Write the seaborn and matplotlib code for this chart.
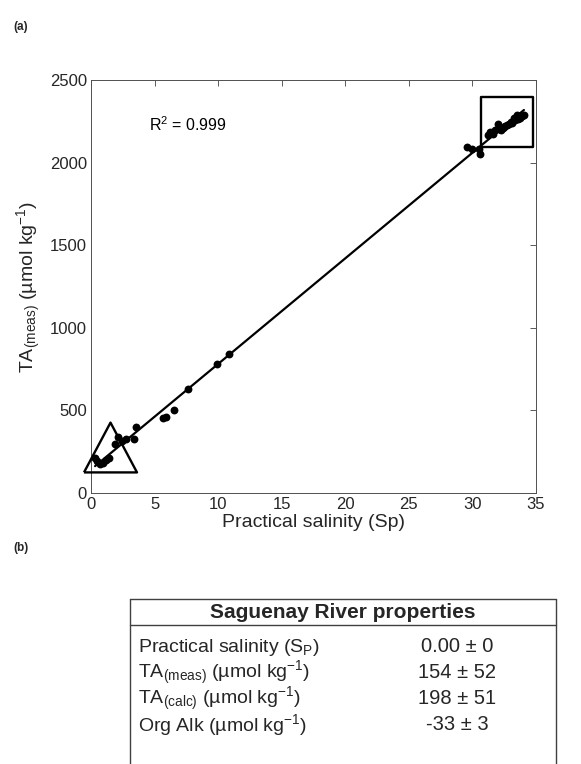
import matplotlib
matplotlib.use("Agg")
import matplotlib.pyplot as plt
import seaborn as sns
import pandas as pd
from matplotlib.lines import Line2D

# ---------------- data ----------------
salinity = [0.32, 0.44, 0.69, 0.93, 1.18, 1.42, 1.91, 2.16, 2.40, 2.77, 3.38, 3.50,
            5.70, 5.90, 6.49, 7.59, 9.94, 10.84,
            29.57, 29.93, 30.55, 30.62,
            31.20, 31.35, 31.50, 31.65, 31.80, 32.00, 32.10, 32.25, 32.40, 32.50,
            32.60, 32.75, 32.90, 33.00, 33.10, 33.24, 33.35, 33.48, 33.60, 33.75,
            33.90, 34.05]
ta_meas = [210, 194, 174, 184, 198, 210, 295, 336, 315, 326, 326, 400,
           457, 463, 504, 629, 781, 842,
           2095, 2080, 2085, 2055,
           2170, 2186, 2180, 2175, 2195, 2231, 2205, 2200, 2210, 2215,
           2220, 2230, 2235, 2247, 2240, 2267, 2255, 2288, 2262, 2270,
           2280, 2288]
r2_text = "R$^2$ = 0.999"
highlight_tri = (1.5, 278)      # river end-member marker
highlight_sq = (32.7, 2243)     # sea end-member marker

x_ticks = [0, 5, 10, 15, 20, 25, 30, 35]
y_ticks = [0, 500, 1000, 1500, 2000, 2500]

table_title = "Saguenay River properties"
table_labels = ["Practical salinity (S$_{\\mathrm{P}}$)",
                "TA$_{\\mathrm{(meas)}}$ (µmol kg$^{\\mathrm{-1}}$)",
                "TA$_{\\mathrm{(calc)}}$ (µmol kg$^{\\mathrm{-1}}$)",
                "Org Alk (µmol kg$^{\\mathrm{-1}}$)"]
table_values = ["0.00 ± 0", "154 ± 52", "198 ± 51", "-33 ± 3"]

df = pd.DataFrame({"Sp": salinity, "TA": ta_meas})

# ---------------- style ----------------
sns.set_theme(style="white")
plt.rcParams["font.family"] = ["Liberation Sans", "DejaVu Sans"]
plt.rcParams["mathtext.fontset"] = "custom"
plt.rcParams["mathtext.rm"] = "Liberation Sans"
plt.rcParams["mathtext.it"] = "Liberation Sans:italic"
plt.rcParams["mathtext.bf"] = "Liberation Sans:bold"

W, H = 581, 764
fig = plt.figure(figsize=(W / 100, H / 100), dpi=100)

def fx(px):
    return px / W

def fy(py):
    return 1 - py / H

ax_l, ax_r, ax_t, ax_b = 91, 536, 80, 493
ax = fig.add_axes([fx(ax_l), fy(ax_b), fx(ax_r - ax_l), (ax_b - ax_t) / H])

sns.regplot(data=df, x="Sp", y="TA", ax=ax, scatter=False, ci=None,
            truncate=True, line_kws=dict(color="black", lw=1.6))
sns.scatterplot(data=df, x="Sp", y="TA", ax=ax, color="black", s=32,
                edgecolor="black", linewidth=0, zorder=3)

px2pt = 0.72
ax.plot([highlight_tri[0]], [highlight_tri[1]], linestyle="none",
        marker=[(-1, -0.94), (1, -0.94), (0, 0.94), (-1, -0.94)],
        markersize=53 * px2pt,
        markerfacecolor="none", markeredgecolor="black", markeredgewidth=1.7,
        zorder=4, clip_on=False)
ax.plot([highlight_sq[0]], [highlight_sq[1]], linestyle="none",
        marker=[(-1, -0.96), (1, -0.96), (1, 0.96), (-1, 0.96), (-1, -0.96)],
        markersize=53 * px2pt, markerfacecolor="none", markeredgecolor="black",
        markeredgewidth=1.7, zorder=4, clip_on=False)

ax.text(4.6, 2228, r2_text, fontsize=11.5, ha="left", va="center", color="black")

ax.set_xlim(0, 35)
ax.set_ylim(0, 2500)
ax.set_xticks(x_ticks)
ax.set_yticks(y_ticks)
ax.tick_params(direction="in", length=4, width=0.6, colors="#404040",
               labelsize=12, top=True, right=True, labelcolor="#262626", pad=3)
for s in ax.spines.values():
    s.set_color("#505050")
    s.set_linewidth(0.7)
    s.set_visible(True)
ax.set_xlabel("Practical salinity (Sp)", fontsize=14, color="#262626", labelpad=1)
ax.set_ylabel("TA$_{\\mathrm{(meas)}}$ (µmol kg$^{\\mathrm{-1}}$)", fontsize=14,
              color="#262626", labelpad=5)

fig.text(fx(13), fy(27), "(a)", fontsize=8.5, fontweight="bold", va="center")
fig.text(fx(13), fy(548), "(b)", fontsize=8.5, fontweight="bold", va="center")

# ---------------- table ----------------
t_l, t_r, t_top, t_sep = 130, 556, 599, 625
row_y = [647, 673, 699, 725]
lc = "#404040"
fig.add_artist(Line2D([fx(t_l), fx(t_r)], [fy(t_top), fy(t_top)], color=lc, lw=1.0))
fig.add_artist(Line2D([fx(t_l), fx(t_r)], [fy(t_sep), fy(t_sep)], color=lc, lw=1.0))
fig.add_artist(Line2D([fx(t_l), fx(t_l)], [fy(t_top), 0], color=lc, lw=1.0))
fig.add_artist(Line2D([fx(t_r), fx(t_r)], [fy(t_top), 0], color=lc, lw=1.0))
fig.text(fx((t_l + t_r) / 2), fy((t_top + t_sep) / 2), table_title, fontsize=15,
         fontweight="bold", ha="center", va="center")
for lab, val, yy in zip(table_labels, table_values, row_y):
    fig.text(fx(t_l + 8), fy(yy), lab, fontsize=14, ha="left", va="center")
    fig.text(fx(457), fy(yy), val, fontsize=14.5, ha="center", va="center")

fig.savefig("out.png", dpi=100)
